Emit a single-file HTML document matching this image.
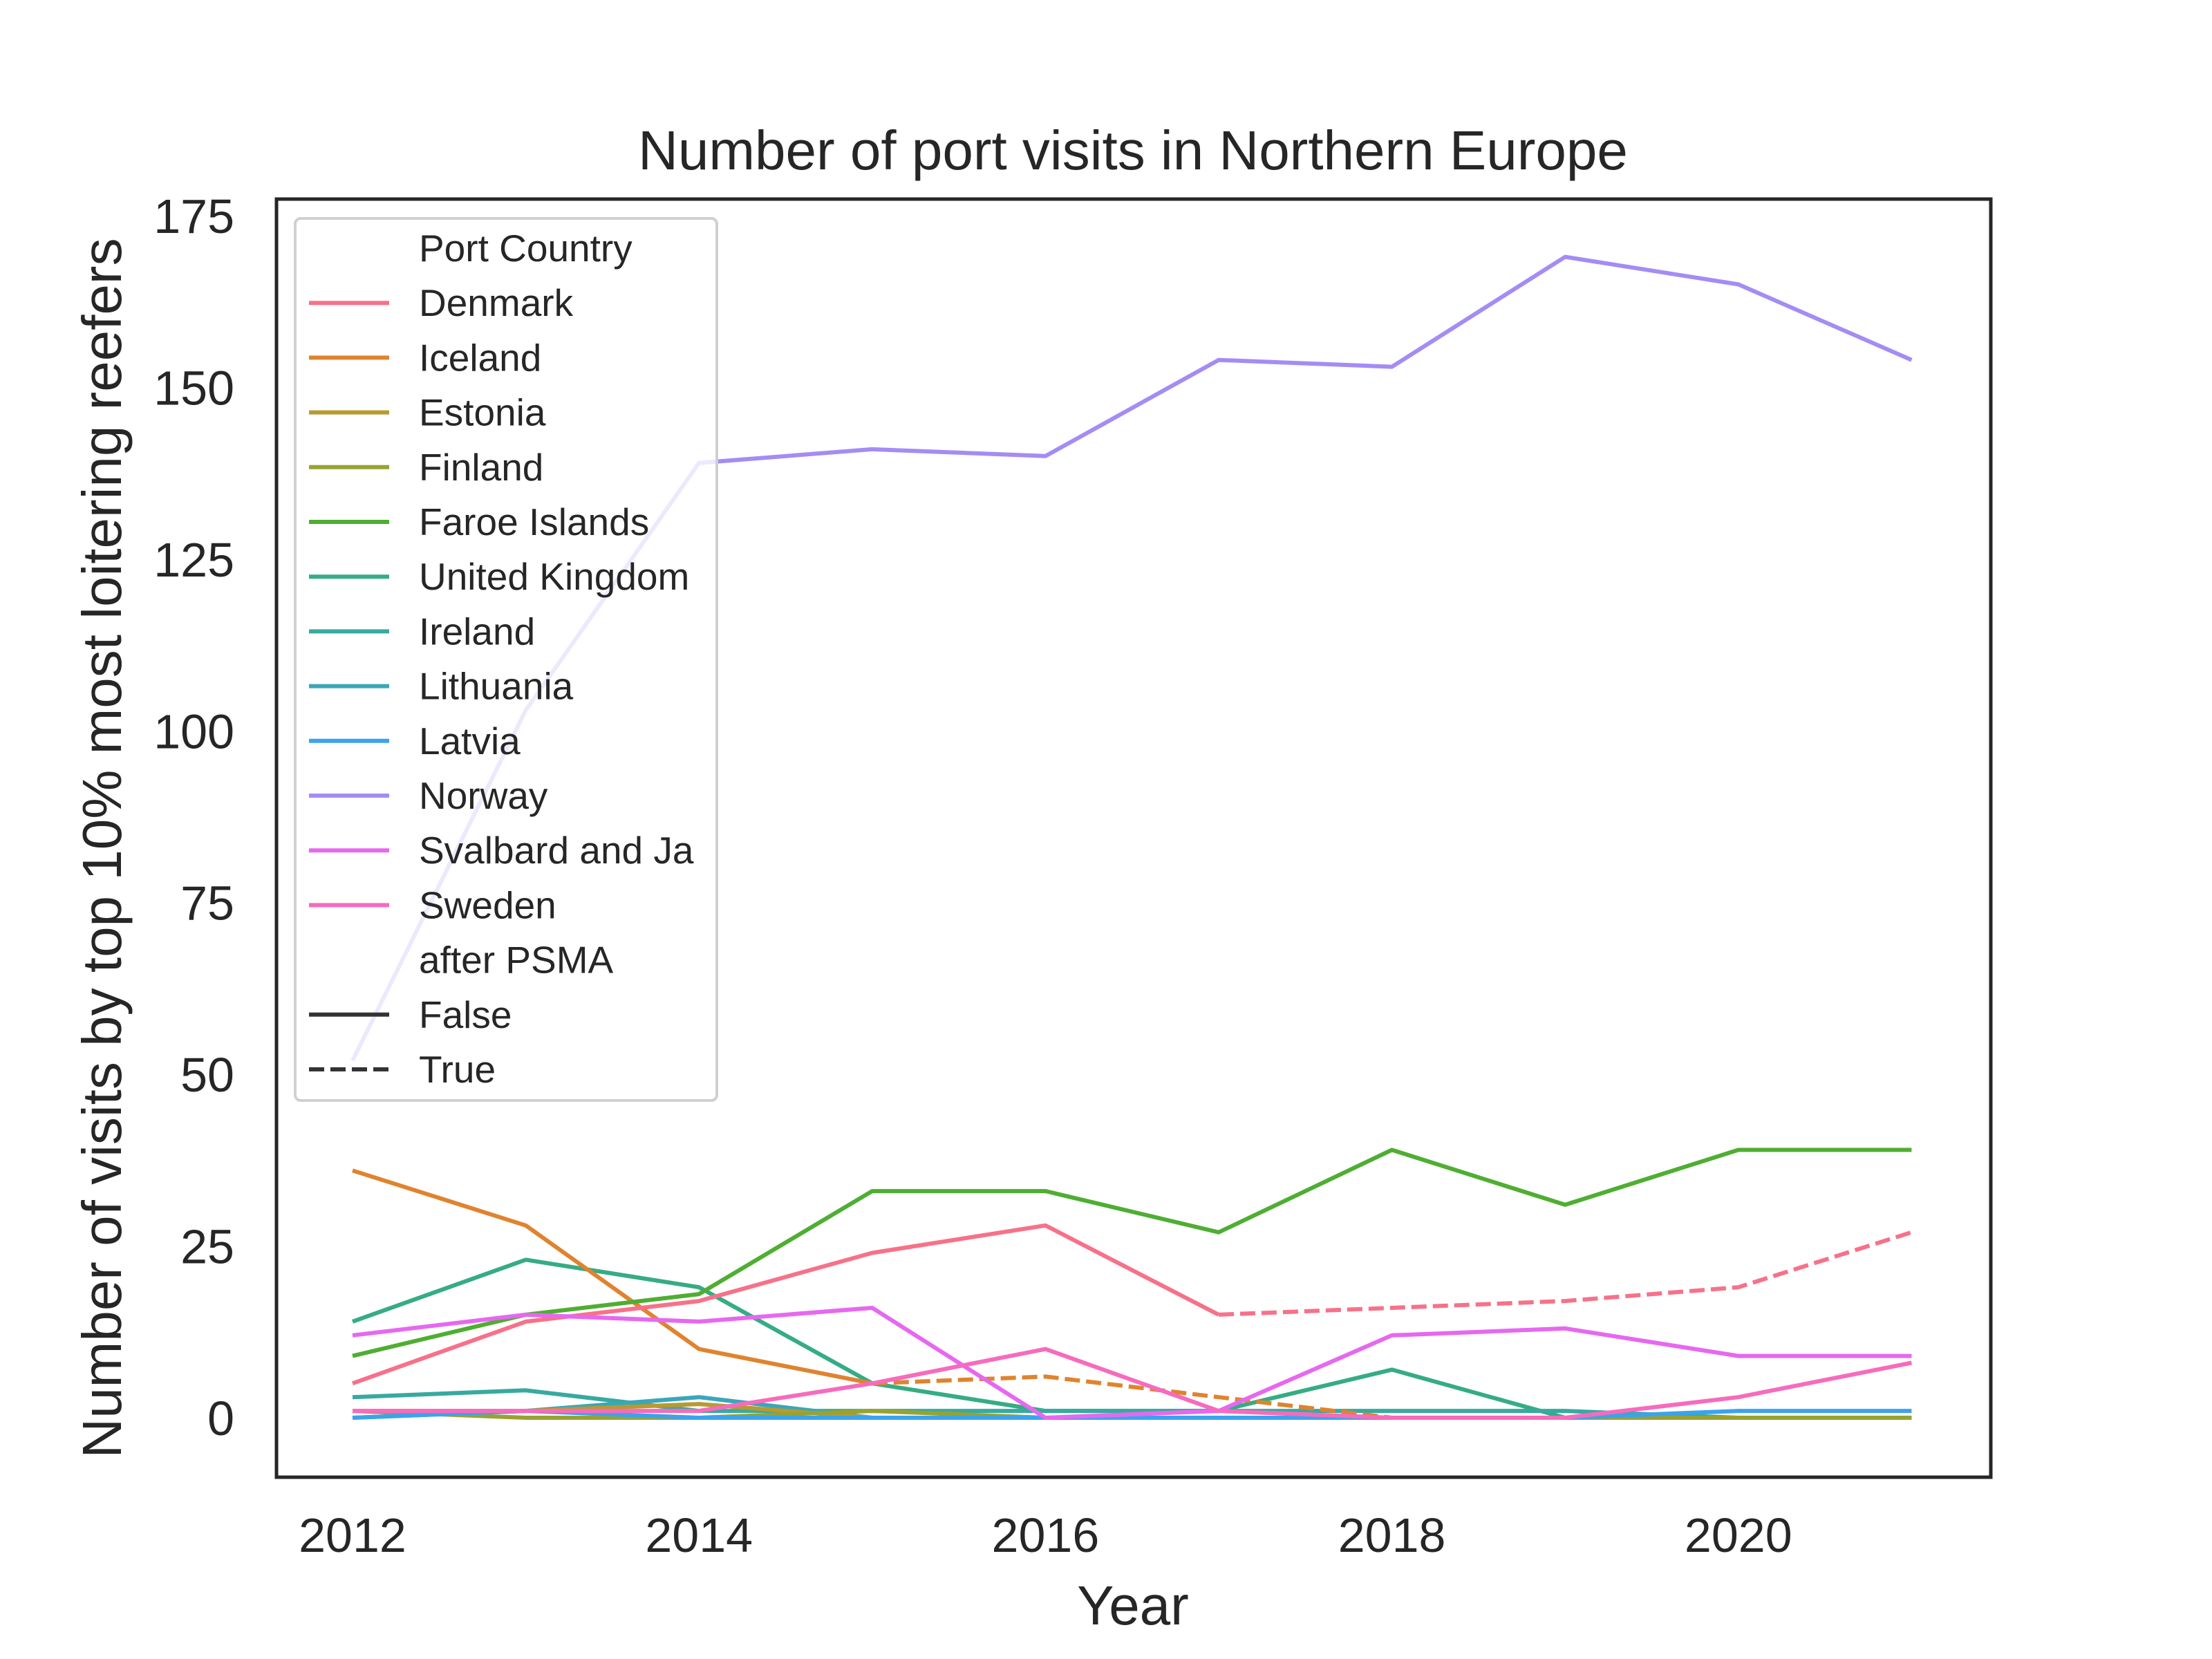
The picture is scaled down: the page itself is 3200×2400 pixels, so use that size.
<!DOCTYPE html>
<html><head><meta charset="utf-8"><style>
html,body{margin:0;padding:0;background:#fff;}
svg{display:block;font-family:"Liberation Sans",Arial,sans-serif;}
</style></head><body>
<svg id="chart" width="3200" height="2400" viewBox="0 0 3200 2400" xmlns="http://www.w3.org/2000/svg">
<rect width="3200" height="2400" fill="#fff"/>
<text x="1639" y="245" font-size="80" text-anchor="middle" fill="#262626">Number of port visits in Northern Europe</text>
<text x="1639" y="2350" font-size="80" text-anchor="middle" fill="#262626">Year</text>
<text transform="translate(175,1227) rotate(-90)" font-size="80" text-anchor="middle" fill="#262626">Number of visits by top 10% most loitering reefers</text>
<g id="ticks"></g>
<g id="plot"></g>
<rect x="400" y="288" width="2480" height="1849" fill="none" stroke="#262626" stroke-width="5"/>
<g id="legend"></g>
</svg>
<script>
const years = [2012,2013,2014,2015,2016,2017,2018,2019,2020,2021];
const countries = ["Denmark","Iceland","Estonia","Finland","Faroe Islands","United Kingdom","Ireland","Lithuania","Latvia","Norway","Svalbard and Ja","Sweden"];
const colors = ["#f77189","#e0832f","#b89a31","#98a231","#4fae32","#35ac84","#37aaa0","#39a7b9","#3ba3ec","#a48cf4","#e668f0","#f66bbd"];
const denmarkFalse = [5,14,17,24,28,15,null,null,null,null];
const denmarkTrue = [null,null,null,null,null,15,16,17,19,27];
const icelandFalse = [36,28,10,5,null,null,null,null,null,null];
const icelandTrue = [null,null,null,5,6,3,0,null,null,null];
const estonia = [1,1,2,0,0,0,0,0,0,0];
const finland = [1,0,0,1,0,0,0,0,0,0];
const faroe = [9,15,18,33,33,27,39,31,39,39];
const uk = [14,23,19,5,1,1,7,0,0,0];
const ireland = [3,4,1,1,1,1,1,1,0,0];
const lithuania = [0,1,3,0,0,0,0,0,0,0];
const latvia = [0,1,0,0,0,0,0,0,1,1];
const norway = [52,103,139,141,140,154,153,169,165,154];
const svalbard = [12,15,14,16,0,1,12,13,9,9];
const sweden = [1,1,1,5,10,1,0,0,3,8];
const yTicks = [0,25,50,75,100,125,150,175];
const xTicks = [2012,2014,2016,2018,2020];

const NS="http://www.w3.org/2000/svg";
const X = y => 510 + (y-2012)*250.6;
const Y = v => 2051 - v*(1739/175);
const tg=document.getElementById('ticks');
yTicks.forEach(t=>{
  const e=document.createElementNS(NS,'text');
  e.setAttribute('x',339);e.setAttribute('y',Y(t)+25);e.setAttribute('font-size',70);
  e.setAttribute('text-anchor','end');e.setAttribute('fill','#262626');e.textContent=t;
  
  
  tg.appendChild(e);
});
xTicks.forEach(t=>{
  const e=document.createElementNS(NS,'text');
  e.setAttribute('x',X(t));e.setAttribute('y',2245);e.setAttribute('font-size',70);
  e.setAttribute('text-anchor','middle');e.setAttribute('fill','#262626');e.textContent=t;
  
  
  tg.appendChild(e);
});
const series=[
 [norway,9,false,"norway"],[uk,5,false,"united-kingdom"],[ireland,6,false,"ireland"],[lithuania,7,false,"lithuania"],
 [estonia,2,false,"estonia"],[finland,3,false,"finland"],[latvia,8,false,"latvia"],
 [icelandFalse,1,false,"iceland"],[icelandTrue,1,true,"iceland-after-psma"],
 [faroe,4,false,"faroe-islands"],[denmarkFalse,0,false,"denmark"],[denmarkTrue,0,true,"denmark-after-psma"],
 [svalbard,10,false,"svalbard"],[sweden,11,false,"sweden"]
];
const pg=document.getElementById('plot');
series.forEach(([vals,ci,dash,nm])=>{
  const pts=[];
  vals.forEach((v,i)=>{ if(v!==null) pts.push(X(years[i]).toFixed(1)+','+Y(v).toFixed(1)); });
  const p=document.createElementNS(NS,'polyline');
  p.setAttribute('points',pts.join(' '));
  p.setAttribute('fill','none');p.setAttribute('stroke',colors[ci]);p.setAttribute('stroke-width',6);
  p.setAttribute('stroke-linejoin','round');
  if(dash) p.setAttribute('stroke-dasharray','22 9');
  
  
  pg.appendChild(p);
});
const lg=document.getElementById('legend');
const box=document.createElementNS(NS,'rect');
box.setAttribute('x',427);box.setAttribute('y',316);box.setAttribute('width',610);box.setAttribute('height',1276);
box.setAttribute('rx',8);box.setAttribute('fill','#fff');box.setAttribute('fill-opacity','0.8');
box.setAttribute('stroke','#d0d0d0');box.setAttribute('stroke-width',4);


lg.appendChild(box);
const items=[["Port Country",null,false]].concat(countries.map((c,i)=>[c,colors[i],false])).concat([["after PSMA",null,false],["False","#333",false],["True","#333",true]]);
items.forEach(([label,col,dash],i)=>{
  const cy=359+i*79.2;
  if(col){
    const l=document.createElementNS(NS,'line');
    l.setAttribute('x1',447);l.setAttribute('x2',563);l.setAttribute('y1',cy);l.setAttribute('y2',cy);
    l.setAttribute('stroke',col);l.setAttribute('stroke-width',6);
    if(dash) l.setAttribute('stroke-dasharray','22 9');
    
    
    lg.appendChild(l);
  }
  const t=document.createElementNS(NS,'text');
  t.setAttribute('x',606);t.setAttribute('y',cy+19);t.setAttribute('font-size',55);t.setAttribute('fill','#262626');
  t.textContent=label;
  
  
  lg.appendChild(t);
});
</script>
</body></html>
